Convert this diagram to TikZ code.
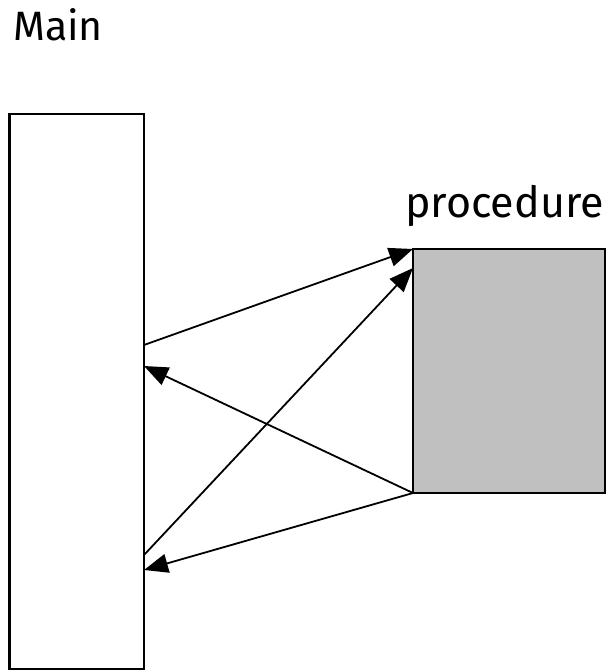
\documentclass[tikz,border=0pt]{standalone}
\usepackage{fontspec}
\setmainfont{Fira Sans}
\usetikzlibrary{arrows.meta,calc}
\definecolor{procgray}{RGB}{192,192,192}
\begin{document}
\begin{tikzpicture}[x=1pt,y=-1pt,
  box/.style={draw=black,line width=2.2pt,inner sep=0pt,outer sep=0pt},
  conn/.style={line width=1.8pt,-{Triangle[length=24pt,width=19pt]}},
  lbl/.style={inner sep=0pt,anchor=base west}]
\useasboundingbox (0,0) rectangle (607,671);
\node[box,minimum width=134.5pt,minimum height=555pt] (main) at (76.75,391.5) {};
\node[box,fill=procgray,minimum width=192pt,minimum height=244pt] (proc) at (509,371) {};
\node[lbl,font=\fontsize{41}{45}\selectfont] (mainlbl) at (13,41) {Main};
\node[lbl,font=\fontsize{43}{47}\selectfont] (proclbl) at (405,217) {procedure};
\coordinate (m1) at ($(main.north east)+(0,231)$);
\coordinate (m2) at ($(main.north east)+(0,441)$);
\coordinate (m3) at ($(main.north east)+(0,252)$);
\coordinate (m4) at ($(main.north east)+(0,456)$);
\coordinate (p2) at ($(proc.north west)+(0,19)$);
\draw[conn] (m1) -- (proc.north west);
\draw[conn] (m2) -- (p2);
\draw[conn] (proc.south west) -- (m3);
\draw[conn] (proc.south west) -- (m4);
\end{tikzpicture}
\end{document}
